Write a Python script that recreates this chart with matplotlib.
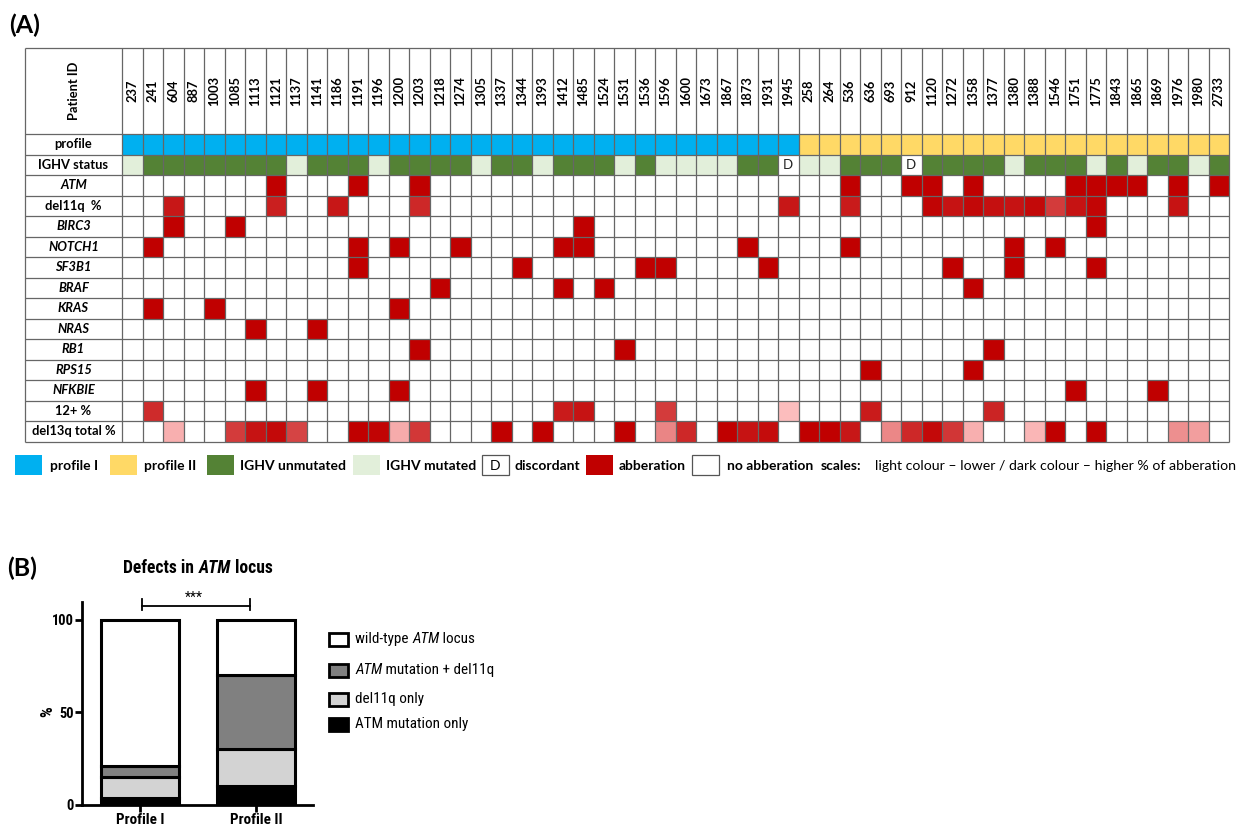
import matplotlib
matplotlib.use('Agg')
import matplotlib.pyplot as plt
from matplotlib.patches import Rectangle
from matplotlib.colors import LinearSegmentedColormap, Normalize
from matplotlib.offsetbox import TextArea, HPacker, AnnotationBbox
from matplotlib import font_manager

# ---------------------------------------------------------------------------
#                               DATA - panel A
# ---------------------------------------------------------------------------
profile1_ids = [237, 241, 604, 887, 1003, 1085, 1113, 1121, 1137, 1141, 1186,
                1191, 1196, 1200, 1203, 1218, 1274, 1305, 1337, 1344, 1393,
                1412, 1485, 1524, 1531, 1536, 1596, 1600, 1673, 1867, 1873,
                1931, 1945]
profile2_ids = [258, 264, 536, 636, 693, 912, 1120, 1272, 1358, 1377, 1380,
                1388, 1546, 1751, 1775, 1843, 1865, 1869, 1976, 1980, 2733]

# U = unmutated, M = mutated, D = discordant
ighv_status = ['M', 'U', 'U', 'U', 'U', 'U', 'U', 'U', 'M', 'U', 'U',
               'U', 'M', 'U', 'U', 'U', 'U', 'M', 'U', 'U', 'M',
               'U', 'U', 'U', 'M', 'U', 'M', 'M', 'M', 'M', 'U',
               'U', 'D',
               'M', 'M', 'U', 'U', 'U', 'D', 'U', 'U', 'U', 'U', 'M',
               'U', 'U', 'U', 'M', 'U', 'M', 'U', 'U', 'M', 'U']

atm_mut = [1121, 1191, 1203, 536, 912, 1120, 1358, 1751, 1775, 1843, 1865,
           1976, 2733]
birc3_mut = [604, 1085, 1485, 1775]
notch1_mut = [241, 1191, 1200, 1274, 1412, 1485, 1873, 536, 1380, 1546]
sf3b1_mut = [1191, 1344, 1536, 1596, 1931, 1272, 1380, 1775]
braf_mut = [1218, 1412, 1524, 1358]
kras_mut = [241, 1003, 1200]
nras_mut = [1113, 1141]
rb1_mut = [1203, 1531, 1377]
rps15_mut = [636, 1358]
nfkbie_mut = [1113, 1141, 1200, 1751, 1869]

# % of abberation (light colour = lower, dark colour = higher)
del11q_pct = {604: 88, 1121: 84, 1186: 88, 1203: 80, 1945: 88, 536: 86,
              1120: 98, 1272: 90, 1358: 96, 1377: 92, 1380: 90, 1388: 95,
              1546: 70, 1751: 90, 1775: 97, 1976: 90}
tri12_pct = {241: 78, 1412: 86, 1485: 90, 1596: 70, 1945: 5, 636: 86,
             1377: 82}
del13q_pct = {604: 12, 1085: 70, 1113: 90, 1121: 95, 1137: 66, 1191: 100,
              1196: 98, 1200: 14, 1203: 72, 1337: 100, 1393: 100, 1531: 100,
              1596: 33, 1600: 80, 1867: 100, 1873: 90, 1931: 94, 258: 100,
              264: 100, 536: 88, 693: 32, 912: 80, 1120: 95, 1272: 73,
              1358: 12, 1388: 8, 1546: 100, 1775: 100, 1976: 28, 1980: 20}

# ---------------------------------------------------------------------------
#                               DATA - panel B
# ---------------------------------------------------------------------------
groups = ['Profile I', 'Profile II']
atm_only = [3.6, 10.0]
del11q_only = [11.4, 20.0]
atm_del11q = [6.0, 40.0]
wild_type = [79.0, 30.0]

# ---------------------------------------------------------------------------
RED = '#C00000'
BLUE = '#00B0F0'
YELLOW = '#FFD966'
DKGREEN = '#548235'
LTGREEN = '#E2EFDA'
GRID = '#666666'
TAB_FONT = 'Lato'

# panel B was drawn with a narrow font, use one if there is one
names = {f.name for f in font_manager.fontManager.ttflist}
NARROW, BS = 'Liberation Sans', 0.78
for cand in ['Roboto Condensed', 'Liberation Sans Narrow', 'DejaVu Sans Condensed']:
    if cand in names:
        NARROW, BS = cand, 0.87
        break

abb_cmap = LinearSegmentedColormap.from_list('abb', ['#ffc6c6', RED])
abb_norm = Normalize(0, 100)

W, H = 1243, 826
fig = plt.figure(figsize=(W / 100, H / 100), dpi=100)

# overlay axes in pixel coordinates, for labels and legends
ov = fig.add_axes([0, 0, 1, 1])
ov.set_xlim(0, W)
ov.set_ylim(H, 0)
ov.axis('off')

# ---------------------------------------------------------------------------
#                                 PANEL A
# ---------------------------------------------------------------------------
patients = profile1_ids + profile2_ids
n = len(patients)
lab_w = 97 / 20.5
head_h = 86 / 20.5

rows = [
    ('ATM', 'bin', atm_mut, True),
    ('del11q  %', 'pct', del11q_pct, False),
    ('BIRC3', 'bin', birc3_mut, True),
    ('NOTCH1', 'bin', notch1_mut, True),
    ('SF3B1', 'bin', sf3b1_mut, True),
    ('BRAF', 'bin', braf_mut, True),
    ('KRAS', 'bin', kras_mut, True),
    ('NRAS', 'bin', nras_mut, True),
    ('RB1', 'bin', rb1_mut, True),
    ('RPS15', 'bin', rps15_mut, True),
    ('NFKBIE', 'bin', nfkbie_mut, True),
    ('12+ %', 'pct', tri12_pct, False),
    ('del13q total %', 'pct', del13q_pct, False),
]
nrows = 2 + len(rows)
bottom = head_h + nrows

axa = fig.add_axes([25 / W, (H - 441.5) / H, (1229 - 25) / W, (441.5 - 48) / H])
axa.set_xlim(-lab_w, n)
axa.set_ylim(bottom, 0)
axa.axis('off')

tkw = dict(family=TAB_FONT, fontweight='bold', fontsize=9.3, ha='center', va='center')

# header
axa.text(-lab_w / 2, head_h / 2, 'Patient ID', rotation=90, **tkw)
for i, p in enumerate(patients):
    axa.text(i + 0.5, head_h / 2, str(p), rotation=90, **tkw)

# profile row
y = head_h
axa.text(-lab_w / 2, y + 0.5, 'profile', **tkw)
for i, p in enumerate(patients):
    c = BLUE if p in profile1_ids else YELLOW
    axa.add_patch(Rectangle((i, y), 1, 1, facecolor=c, edgecolor='none'))

# IGHV row
y = head_h + 1
axa.text(-lab_w / 2, y + 0.5, 'IGHV status', **tkw)
for i, s in enumerate(ighv_status):
    c = {'U': DKGREEN, 'M': LTGREEN, 'D': 'white'}[s]
    axa.add_patch(Rectangle((i, y), 1, 1, facecolor=c, edgecolor='none'))
    if s == 'D':
        axa.text(i + 0.5, y + 0.52, 'D', family=TAB_FONT, fontsize=9.5,
                 ha='center', va='center', color='#222222')

# abberation rows
for r, (label, kind, vals, italic) in enumerate(rows):
    y = head_h + 2 + r
    axa.text(-lab_w / 2, y + 0.5, label, style='italic' if italic else 'normal', **tkw)
    for i, p in enumerate(patients):
        if kind == 'bin':
            c = RED if p in vals else 'white'
        else:
            c = abb_cmap(abb_norm(vals[p])) if p in vals else 'white'
        axa.add_patch(Rectangle((i, y), 1, 1, facecolor=c, edgecolor='none'))

# grid
axa.vlines([-lab_w] + list(range(n + 1)), 0, bottom, colors=GRID, lw=0.9, clip_on=False)
axa.hlines([0, head_h] + [head_h + k for k in range(1, nrows + 1)], -lab_w, n,
           colors=GRID, lw=0.9, clip_on=False)

ov.text(9, 25, '(A)', family=TAB_FONT, fontweight='bold', fontsize=18, va='center', ha='left')

# legend A
lkw = dict(family=TAB_FONT, fontweight='bold', fontsize=10, va='center', ha='left')
sq_y, sq_h = 455, 20
for x0, c in [(15, BLUE), (110, YELLOW), (207, DKGREEN), (353, LTGREEN), (586, RED)]:
    ov.add_patch(Rectangle((x0, sq_y), 27, sq_h, facecolor=c, edgecolor='none'))
for x0 in [482, 692]:
    ov.add_patch(Rectangle((x0, sq_y), 27, sq_h, facecolor='white', edgecolor='#555555', lw=0.9))
ov.text(495.5, sq_y + sq_h / 2 + 1, 'D', family=TAB_FONT, fontsize=10, ha='center', va='center')
for x0, t in [(50, 'profile I'), (144, 'profile II'), (240, 'IGHV unmutated'),
              (386, 'IGHV mutated'), (515, 'discordant'), (619, 'abberation'),
              (727, 'no abberation'), (821, 'scales:')]:
    ov.text(x0, 466, t, **lkw)
ov.text(875, 466, 'light colour \u2013 lower / dark colour \u2013 higher % of abberation',
        family=TAB_FONT, fontsize=10.2, va='center', ha='left')

# ---------------------------------------------------------------------------
#                                 PANEL B
# ---------------------------------------------------------------------------
axb = fig.add_axes([82 / W, (H - 805) / H, (313 - 82) / W, (805 - 602) / H])
x = [0, 1]
bw = 0.67
base = [0, 0]
stack = [(atm_only, 'black'), (del11q_only, '#d3d3d3'), (atm_del11q, '#808080'),
         (wild_type, 'white')]
for vals, c in stack:
    axb.bar(x, vals, bw, bottom=base, color=c, edgecolor='black', linewidth=2.2, zorder=3)
    base = [b + v for b, v in zip(base, vals)]

axb.set_xlim(-0.5, 1.49)
axb.set_ylim(0, 109.5)
axb.spines['top'].set_visible(False)
axb.spines['right'].set_visible(False)
axb.spines['left'].set_linewidth(2)
axb.spines['bottom'].set_linewidth(2)
axb.set_yticks([0, 50, 100])
axb.set_yticklabels(['0', '50', '100'], fontweight='bold', family=NARROW, fontsize=12 * BS)
axb.set_xticks(x)
axb.set_xticklabels(groups, fontweight='bold', family=NARROW, fontsize=12.5 * BS)
axb.tick_params(width=2, length=5, pad=1)

# significance bracket
axb.plot([0.02, 0.95], [107.5, 107.5], color='black', lw=1.3, clip_on=False)
axb.plot([0.02, 0.02], [105, 111], color='black', lw=1.3, clip_on=False)
axb.plot([0.95, 0.95], [105, 111], color='black', lw=1.3, clip_on=False)
ov.text(194, 598, '***', family=NARROW, fontsize=10, ha='center', va='center')

ov.text(48, 712, '%', family=NARROW, fontweight='bold', fontsize=14 * BS, rotation=90,
        ha='center', va='center')
ov.text(7, 568, '(B)', family=TAB_FONT, fontweight='bold', fontsize=18, va='center', ha='left')


def rich(parts, size, weight='normal'):
    boxes = [TextArea(t, textprops=dict(family=NARROW, fontsize=size, fontweight=weight,
                                        style=st)) for t, st in parts]
    return HPacker(children=boxes, pad=0, sep=0, align='baseline')


title = rich([('Defects in ', 'normal'), ('ATM', 'italic'), (' locus', 'normal')], 14.5 * BS, 'bold')
ov.add_artist(AnnotationBbox(title, (198, 568), frameon=False, box_alignment=(0.5, 0.5)))

leg_b = [
    ([('wild-type ', 'normal'), ('ATM', 'italic'), (' locus', 'normal')], 'white', 639),
    ([('ATM', 'italic'), (' mutation + del11q', 'normal')], '#808080', 670),
    ([('del11q only', 'normal')], '#d3d3d3', 699),
    ([('ATM mutation only', 'normal')], 'black', 724),
]
for parts, c, yy in leg_b:
    ov.add_patch(Rectangle((329, yy - 6.5), 19, 13, facecolor=c, edgecolor='black', lw=2))
    ov.add_artist(AnnotationBbox(rich(parts, 12.5 * BS), (355, yy), frameon=False,
                                 box_alignment=(0, 0.5)))

fig.savefig('out.png', dpi=100)
